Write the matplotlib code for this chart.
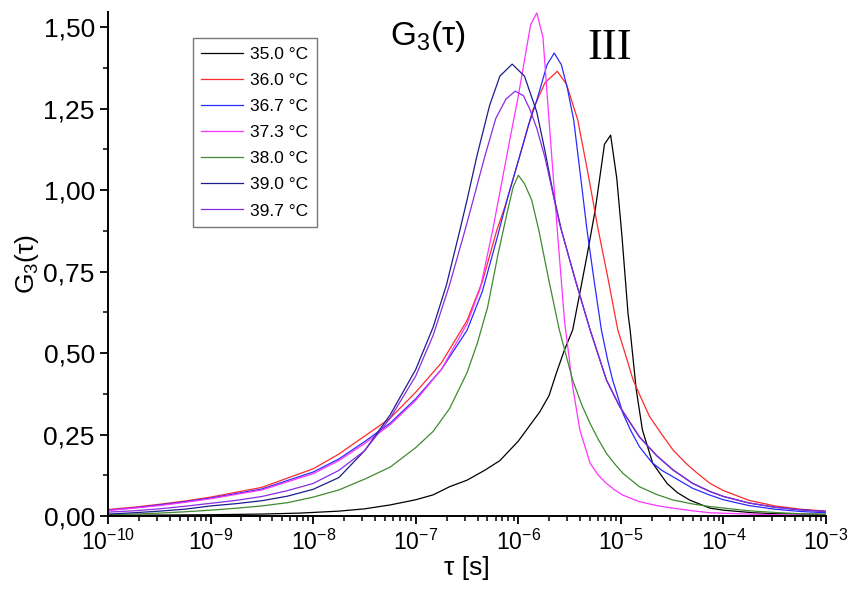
import numpy as np
import matplotlib
matplotlib.use('Agg')
import matplotlib.pyplot as plt
from matplotlib import rcParams
from matplotlib.ticker import FuncFormatter, MultipleLocator, LogLocator, LogFormatterMathtext

rcParams['font.family'] = ['Liberation Sans', 'DejaVu Sans']
rcParams['mathtext.fontset'] = 'custom'
rcParams['mathtext.rm'] = 'Liberation Sans'
rcParams['mathtext.it'] = 'Liberation Sans:italic'

# 图例标签
labels = ['35.0 °C', '36.0 °C', '36.7 °C', '37.3 °C', '38.0 °C', '39.0 °C', '39.7 °C']
colors = ['#000000', '#ff2a2a', '#2a2aff', '#ff33ff', '#3f8a2f', '#1c1c8c', '#8a2be2']

# 数据：log10(tau) 与 G3(tau)
lt_350 = [-10, -9.5, -9.0, -8.5, -8.13, -7.75, -7.5, -7.25, -7.0, -6.83, -6.67, -6.5, -6.33,
          -6.18, -6.0, -5.86, -5.79, -5.7, -5.63, -5.55, -5.47, -5.40, -5.33, -5.25, -5.16,
          -5.10, -5.04, -4.99, -4.93, -4.91, -4.85, -4.79, -4.69, -4.55, -4.45, -4.33, -4.13,
          -4.0, -3.71, -3.5, -3.0]
g_350 = [0.002, 0.003, 0.004, 0.006, 0.009, 0.015, 0.022, 0.034, 0.05, 0.065, 0.09, 0.11, 0.14,
         0.17, 0.23, 0.29, 0.32, 0.37, 0.438, 0.51, 0.571, 0.685, 0.80, 0.94, 1.141,
         1.169, 1.036, 0.86, 0.62, 0.571, 0.387, 0.264, 0.162, 0.10, 0.072, 0.049, 0.024,
         0.018, 0.01, 0.007, 0.005]

lt_360 = [-10, -9.75, -9.5, -9.25, -9.0, -8.5, -8.0, -7.75, -7.5, -7.25, -7.0, -6.75, -6.5,
          -6.35, -6.21, -6.13, -6.0, -5.86, -5.74, -5.62, -5.53, -5.42, -5.32, -5.22, -5.12,
          -5.03, -4.95, -4.88, -4.80, -4.72, -4.6, -4.49, -4.36, -4.25, -4.13, -4.0, -3.75,
          -3.5, -3.25, -3.0]
g_360 = [0.020, 0.027, 0.036, 0.046, 0.058, 0.088, 0.145, 0.19, 0.245, 0.30, 0.38, 0.47, 0.60,
         0.72, 0.877, 0.95, 1.09, 1.245, 1.33, 1.365, 1.325, 1.215, 1.05, 0.877, 0.72,
         0.571, 0.49, 0.417, 0.36, 0.305, 0.25, 0.202, 0.16, 0.13, 0.10, 0.078, 0.048,
         0.031, 0.021, 0.015]

lt_367 = [-10, -9.75, -9.5, -9.25, -9.0, -8.5, -8.0, -7.75, -7.5, -7.25, -7.0, -6.75, -6.5,
          -6.35, -6.21, -6.11, -6.0, -5.9, -5.82, -5.72, -5.65, -5.58, -5.52, -5.46, -5.40,
          -5.33, -5.26, -5.19, -5.13, -5.08, -4.98, -4.9, -4.82, -4.7, -4.6, -4.49, -4.3,
          -4.13, -4.0, -3.75, -3.5, -3.25, -3.0]
g_367 = [0.018, 0.025, 0.034, 0.044, 0.055, 0.083, 0.135, 0.175, 0.228, 0.285, 0.36, 0.45, 0.57,
         0.69, 0.85, 0.97, 1.09, 1.20, 1.276, 1.385, 1.421, 1.385, 1.31, 1.215, 1.06,
         0.877, 0.72, 0.571, 0.48, 0.417, 0.315, 0.26, 0.213, 0.165, 0.14, 0.12, 0.085,
         0.064, 0.05, 0.032, 0.021, 0.014, 0.01]

lt_373 = [-10, -9.75, -9.5, -9.25, -9.0, -8.5, -8.0, -7.75, -7.5, -7.25, -7.0, -6.75, -6.5,
          -6.37, -6.25, -6.11, -6.0, -5.88, -5.82, -5.76, -5.69, -5.62, -5.55, -5.47, -5.40,
          -5.30, -5.22, -5.14, -5.06, -4.98, -4.82, -4.65, -4.49, -4.3, -4.13, -3.75, -3.5,
          -3.0]
g_373 = [0.017, 0.024, 0.032, 0.042, 0.053, 0.08, 0.13, 0.17, 0.222, 0.28, 0.355, 0.45, 0.59,
         0.70, 0.877, 1.11, 1.29, 1.508, 1.544, 1.47, 1.17, 0.877, 0.60, 0.397, 0.264,
         0.162, 0.125, 0.10, 0.08, 0.064, 0.044, 0.032, 0.024, 0.016, 0.01, 0.006, 0.004,
         0.002]

lt_380 = [-10, -9.75, -9.5, -9.25, -9.0, -8.75, -8.5, -8.25, -8.0, -7.75, -7.5, -7.25, -7.0,
          -6.83, -6.67, -6.5, -6.4, -6.3, -6.2, -6.11, -6.05, -6.0, -5.94, -5.87, -5.80,
          -5.7, -5.6, -5.47, -5.38, -5.30, -5.22, -5.14, -5.06, -4.98, -4.82, -4.65, -4.49,
          -4.3, -4.13, -3.75, -3.5, -3.25, -3.0]
g_380 = [0.004, 0.006, 0.009, 0.013, 0.018, 0.024, 0.031, 0.041, 0.058, 0.08, 0.113, 0.15, 0.21,
         0.26, 0.33, 0.44, 0.53, 0.64, 0.80, 0.93, 1.01, 1.046, 1.02, 0.97, 0.877,
         0.72, 0.571, 0.417, 0.34, 0.284, 0.235, 0.192, 0.16, 0.131, 0.09, 0.066, 0.049,
         0.037, 0.029, 0.016, 0.011, 0.007, 0.005]

lt_390 = [-10, -9.75, -9.5, -9.25, -9.0, -8.75, -8.5, -8.25, -8.0, -7.75, -7.5, -7.25, -7.0,
          -6.83, -6.7, -6.57, -6.5, -6.4, -6.28, -6.18, -6.06, -5.94, -5.82, -5.74, -5.66,
          -5.58, -5.44, -5.30, -5.14, -5.01, -4.82, -4.65, -4.49, -4.3, -4.13, -4.0, -3.75,
          -3.5, -3.25, -3.0]
g_390 = [0.006, 0.01, 0.015, 0.021, 0.031, 0.038, 0.047, 0.061, 0.082, 0.118, 0.20, 0.31, 0.45,
         0.58, 0.71, 0.877, 0.97, 1.11, 1.26, 1.35, 1.387, 1.35, 1.24, 1.12, 0.99,
         0.877, 0.72, 0.571, 0.417, 0.335, 0.243, 0.185, 0.141, 0.10, 0.075, 0.06, 0.04,
         0.027, 0.019, 0.014]

lt_397 = [-10, -9.75, -9.5, -9.25, -9.0, -8.75, -8.5, -8.25, -8.0, -7.75, -7.5, -7.25, -7.0,
          -6.83, -6.67, -6.52, -6.44, -6.33, -6.22, -6.12, -6.03, -5.95, -5.89, -5.82, -5.74,
          -5.67, -5.60, -5.45, -5.30, -5.14, -5.01, -4.82, -4.65, -4.49, -4.3, -4.13, -4.0,
          -3.75, -3.5, -3.25, -3.0]
g_397 = [0.012, 0.016, 0.022, 0.030, 0.039, 0.048, 0.06, 0.078, 0.10, 0.14, 0.20, 0.30, 0.43,
         0.555, 0.71, 0.877, 0.97, 1.10, 1.22, 1.28, 1.304, 1.29, 1.25, 1.19, 1.10,
         1.0, 0.90, 0.73, 0.571, 0.417, 0.335, 0.243, 0.185, 0.141, 0.10, 0.075, 0.06,
         0.04, 0.027, 0.019, 0.014]

series = [(lt_350, g_350), (lt_360, g_360), (lt_367, g_367), (lt_373, g_373),
          (lt_380, g_380), (lt_390, g_390), (lt_397, g_397)]

fig = plt.figure(figsize=(8.48, 5.93), dpi=100)
ax = fig.add_axes([0.1274, 0.1298, 0.8467, 0.8500])

for (lt, g), c, lab in zip(series, colors, labels):
    ax.plot(10.0 ** np.array(lt), g, color=c, lw=0.9, label=lab)

ax.set_xscale('log')
ax.set_xlim(1e-10, 1e-3)
ax.set_ylim(0, 1.547)

ax.xaxis.set_major_locator(LogLocator(base=10, numticks=20))
ax.xaxis.set_minor_locator(LogLocator(base=10, subs=np.arange(2, 10), numticks=20))
ax.xaxis.set_major_formatter(LogFormatterMathtext())
ax.yaxis.set_major_locator(MultipleLocator(0.25))
ax.yaxis.set_minor_locator(MultipleLocator(0.125))
ax.yaxis.set_major_formatter(FuncFormatter(lambda v, p: f'{v:.2f}'.replace('.', ',')))

ax.spines['top'].set_visible(False)
ax.spines['right'].set_visible(False)
for s in ['left', 'bottom']:
    ax.spines[s].set_linewidth(1.4)
ax.tick_params(which='major', direction='out', length=6, width=1.3)
ax.tick_params(which='minor', direction='out', length=3.5, width=1.1)
ax.tick_params(axis='y', labelsize=19)
ax.tick_params(axis='x', labelsize=16.5)

ax.set_xlabel('τ [s]', fontsize=19, labelpad=1)
ax.set_ylabel(r'G$_\mathdefault{3}$(τ)', fontsize=19, labelpad=2)

ax.text(0.393, 0.934, r'G$_\mathdefault{3}$(τ)', transform=ax.transAxes, fontsize=24)
ax.text(0.667, 0.907, 'III', transform=ax.transAxes, fontsize=32, family='Liberation Serif')

leg = ax.legend(loc='upper left', bbox_to_anchor=(0.118, 0.948), borderaxespad=0,
                fontsize=12.5, frameon=True, fancybox=False, handlelength=2.4,
                handletextpad=0.4, labelspacing=0.63, borderpad=0.5)
leg.get_frame().set_edgecolor('#555555')
leg.get_frame().set_linewidth(1.0)

plt.savefig('out.png', dpi=100)
